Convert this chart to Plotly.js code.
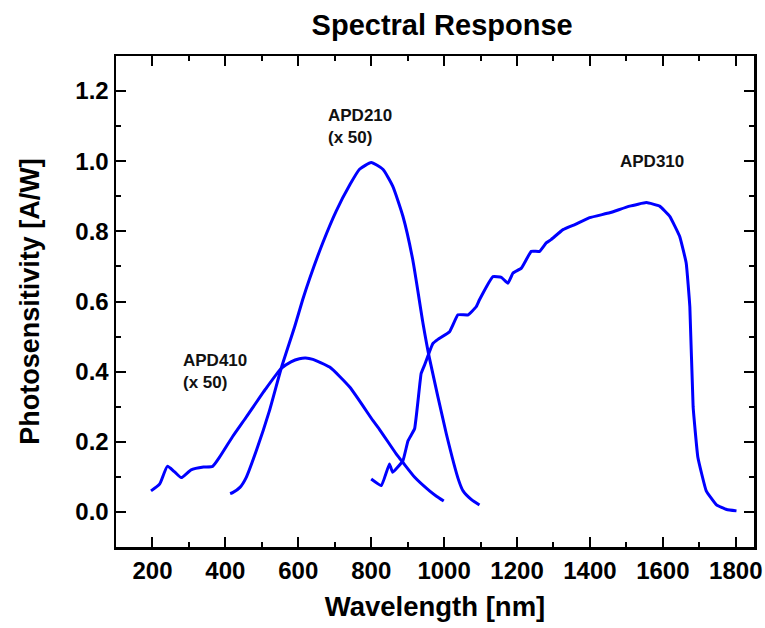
<!DOCTYPE html>
<html><head><meta charset="utf-8">
<script src="https://cdn.plot.ly/plotly-3.0.1.min.js"></script>
<style>body{margin:0;background:#fff}#c{width:765px;height:628px}</style>
</head><body><div id="c"></div>
<script>
const apd410X=[196,220,241,260,279,306,340,365,384,420,457,510,553,580,603,620,640,686,741,805,823,869,887,920,960,980,999];
const apd410Y=[0.06,0.08,0.13,0.115,0.098,0.12,0.128,0.13,0.156,0.215,0.27,0.35,0.409,0.428,0.437,0.439,0.435,0.413,0.356,0.26,0.235,0.165,0.141,0.098,0.06,0.044,0.031];
const apd210X=[413,420,440,457,485,521,553,590,612,631,667,704,741,768,800,832,859,887,914,942,960,1006,1040,1052,1075,1097];
const apd210Y=[0.052,0.055,0.07,0.098,0.175,0.289,0.409,0.528,0.605,0.665,0.767,0.858,0.932,0.977,0.996,0.977,0.929,0.843,0.719,0.538,0.437,0.223,0.09,0.06,0.035,0.02];
const apd310X=[800,828,850,859,887,901,919,937,946,969,983,1015,1038,1066,1088,1097,1134,1157,1175,1189,1212,1239,1262,1280,1294,1326,1360,1399,1454,1509,1555,1591,1619,1646,1664,1674,1683,1696,1719,1747,1775,1802];
const apd310Y=[0.094,0.075,0.137,0.113,0.146,0.203,0.237,0.395,0.418,0.48,0.492,0.514,0.562,0.562,0.585,0.605,0.671,0.669,0.652,0.681,0.695,0.743,0.743,0.767,0.777,0.805,0.82,0.839,0.853,0.872,0.882,0.872,0.843,0.786,0.71,0.585,0.30,0.156,0.06,0.02,0.007,0.003];
const labels=["APD210<br>(x 50)","APD310","APD410<br>(x 50)"];
const labelX=[676,1478,278];
const labelY=[1.10,1.0,0.40];

const F='Liberation Sans, Arial, sans-serif';
const sm={color:'#0000ff',width:3,shape:'spline',smoothing:0.5};
const traces=[
 {x:apd410X,y:apd410Y,mode:'lines',line:sm,hoverinfo:'skip'},
 {x:apd210X,y:apd210Y,mode:'lines',line:sm,hoverinfo:'skip'},
 {x:apd310X,y:apd310Y,mode:'lines',line:{color:'#0000ff',width:3,shape:'spline',smoothing:0.3},hoverinfo:'skip'}
];
const ax={showline:true,linecolor:'#000',linewidth:2.5,mirror:'allticks',ticks:'inside',ticklen:10,tickwidth:2,tickcolor:'#000',
 showgrid:false,zeroline:false,tickfont:{family:F,size:24,weight:'bold',color:'#000'}};
const layout={
 width:765,height:628,margin:{l:116,r:11,t:56,b:81},
 paper_bgcolor:'#fff',plot_bgcolor:'#fff',showlegend:false,
 title:{text:'Spectral Response',font:{family:F,size:29,weight:'bold',color:'#000'},x:0.578,xanchor:'center',y:0.96,yanchor:'middle'},
 xaxis:Object.assign({},ax,{range:[100,1850],tick0:200,dtick:200,ticklabelstandoff:1,
   minor:{dtick:100,tick0:100,ticks:'inside',ticklen:5,tickwidth:2,tickcolor:'#000'},
   title:{text:'Wavelength [nm]',font:{family:F,size:27.5,weight:'bold',color:'#000'},standoff:14}}),
 yaxis:Object.assign({},ax,{range:[-0.1,1.3],tick0:0,dtick:0.2,tickformat:'.1f',
   minor:{dtick:0.1,tick0:0,ticks:'inside',ticklen:5,tickwidth:2,tickcolor:'#000'},
   title:{text:'Photosensitivity [A/W]',font:{family:F,size:27,weight:'bold',color:'#000'},standoff:28}}),
 annotations:labels.map((t,i)=>({text:t,x:labelX[i],y:labelY[i],xref:'x',yref:'y',xanchor:'left',yanchor:'middle',align:'left',showarrow:false,
   font:{family:F,size:17,weight:'bold',color:'#111'}}))
};
Plotly.newPlot('c',traces,layout,{displayModeBar:false,staticPlot:true});
</script></body></html>
